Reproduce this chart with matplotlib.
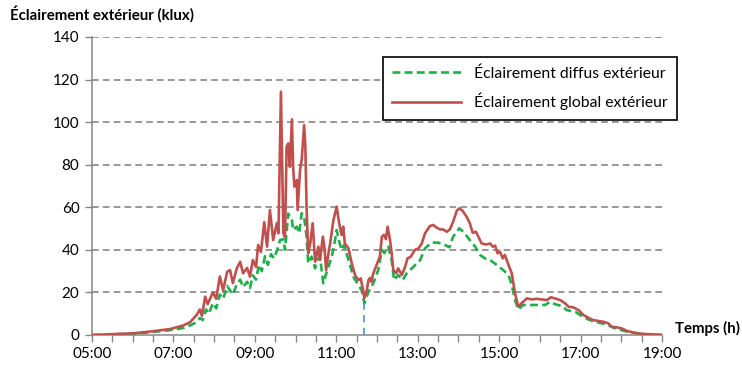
import numpy as np
import matplotlib.pyplot as plt
from matplotlib.ticker import MultipleLocator

# Heures décimales et éclairement (klux)
t_global = [5.00, 5.49, 6.01, 6.42, 6.92, 7.24, 7.41, 7.57, 7.65, 7.70, 7.78, 7.84,
            7.90, 7.97, 8.05, 8.14, 8.22, 8.32, 8.39, 8.46, 8.56, 8.64, 8.71, 8.81,
            8.88, 8.95, 9.03, 9.08, 9.15, 9.23, 9.30, 9.37, 9.45, 9.54, 9.58, 9.64,
            9.70, 9.74, 9.78, 9.82, 9.86, 9.91, 9.94, 9.97, 10.03, 10.05, 10.11, 10.15,
            10.21, 10.24, 10.27, 10.31, 10.36, 10.42, 10.48, 10.56, 10.60, 10.67, 10.71,
            10.75, 10.82, 10.85, 10.93, 11.01, 11.07, 11.13, 11.17, 11.21, 11.30, 11.38,
            11.46, 11.54, 11.60, 11.65, 11.69, 11.75, 11.79, 11.83, 11.86, 11.91, 11.99,
            12.07, 12.12, 12.17, 12.22, 12.26, 12.32, 12.36, 12.40, 12.47, 12.52, 12.61,
            12.69, 12.75, 12.83, 12.93, 13.02, 13.10, 13.18, 13.26, 13.30, 13.38, 13.47,
            13.55, 13.63, 13.71, 13.79, 13.87, 13.96, 14.02, 14.10, 14.20, 14.28, 14.35,
            14.43, 14.51, 14.57, 14.68, 14.78, 14.84, 14.90, 14.96, 15.02, 15.09, 15.14,
            15.23, 15.31, 15.39, 15.47, 15.55, 15.68, 15.80, 15.92, 16.04, 16.17, 16.27,
            16.37, 16.50, 16.62, 16.70, 16.82, 16.95, 17.07, 17.19, 17.31, 17.44, 17.56,
            17.68, 17.76, 17.89, 18.01, 18.13, 18.30, 18.54, 18.79, 19.00]
e_global = [0.0, 0.4, 0.8, 1.6, 2.8, 4.5, 6.0, 9.4, 12.0, 9.0, 18.0, 14.5,
            17.0, 20.0, 17.0, 27.5, 21.0, 29.7, 30.5, 24.4, 31.5, 34.4, 29.0, 31.5,
            27.4, 35.2, 32.0, 42.3, 39.0, 53.0, 41.5, 58.7, 44.6, 52.6, 47.8, 114.3,
            47.9, 46.0, 88.5, 90.0, 79.0, 101.3, 79.0, 69.7, 72.8, 58.7, 77.5, 82.2,
            98.6, 88.5, 60.3, 38.4, 43.0, 52.5, 34.4, 41.5, 35.2, 46.2, 41.0,
            30.5, 40.0, 43.0, 54.0, 60.3, 52.5, 47.0, 50.9, 43.0, 40.7, 33.7,
            28.2, 25.8, 26.6, 21.9, 17.2, 21.1, 25.8, 26.8, 25.0, 29.0, 32.9,
            36.8, 46.2, 47.0, 45.0, 50.9, 44.6, 38.4, 30.5, 29.0, 31.3, 28.2,
            32.0, 36.0, 36.8, 40.0, 40.7, 43.0, 47.8, 50.1, 51.2, 51.7, 50.4,
            49.6, 49.6, 48.5, 49.6, 53.2, 58.4, 59.5, 58.4, 55.6, 52.5, 48.0,
            48.5, 45.4, 43.0, 42.5, 43.0, 41.5, 42.0, 38.4, 39.1, 36.0, 37.6,
            32.9, 29.0, 19.6, 13.3, 14.9, 17.2, 16.7, 17.0, 16.7, 16.4, 17.7,
            17.2, 16.4, 14.9, 13.3, 13.0, 11.7, 9.4, 8.1, 7.0, 6.6, 6.2,
            5.5, 3.9, 3.6, 3.1, 2.0, 1.1, 0.5, 0.3, 0.0]

t_diffus = [5.00, 5.49, 6.01, 6.42, 6.92, 7.24, 7.41, 7.57, 7.65, 7.72, 7.80, 7.87,
            7.97, 8.05, 8.14, 8.22, 8.32, 8.39, 8.46, 8.56, 8.64, 8.71, 8.81, 8.88,
            8.95, 9.03, 9.10, 9.17, 9.25, 9.32, 9.40, 9.47, 9.55, 9.62, 9.70, 9.74,
            9.82, 9.91, 9.94, 10.03, 10.09, 10.15, 10.21, 10.27, 10.31, 10.39, 10.48,
            10.52, 10.60, 10.68, 10.78, 10.89, 10.97, 11.01, 11.07, 11.13, 11.19, 11.30,
            11.42, 11.54, 11.62, 11.69, 11.79, 11.91, 12.03, 12.12, 12.18, 12.28, 12.36,
            12.42, 12.52, 12.63, 12.73, 12.89, 13.06, 13.18, 13.34, 13.50, 13.67, 13.78,
            13.87, 14.02, 14.12, 14.28, 14.41, 14.53, 14.65, 14.78, 14.94, 15.10, 15.23,
            15.31, 15.39, 15.47, 15.59, 15.80, 16.13, 16.25, 16.37, 16.54, 16.66, 16.87,
            17.03, 17.19, 17.40, 17.64, 17.81, 18.13, 18.53, 19.00]
e_diffus = [0.0, 0.3, 0.6, 1.3, 2.3, 3.3, 4.5, 6.0, 8.0, 7.0, 12.0, 10.0,
            15.0, 12.5, 19.0, 17.0, 23.0, 21.0, 19.0, 24.0, 26.0, 22.5, 25.0, 22.0,
            28.0, 26.0, 33.0, 30.0, 37.0, 33.0, 38.0, 36.0, 40.0, 44.6, 45.0, 40.0,
            57.0, 54.0, 49.3, 50.9, 47.8, 57.2, 55.6, 46.2, 33.7, 36.8, 31.3,
            35.0, 36.8, 24.3, 30.5, 36.8, 44.6, 49.3, 44.0, 40.0, 42.3, 35.2,
            27.4, 23.5, 21.1, 14.9, 20.3, 24.3, 30.5, 40.0, 38.5, 41.5, 35.2,
            25.8, 28.2, 25.8, 29.0, 32.0, 35.2, 40.7, 43.4, 43.4, 42.3, 41.2,
            46.2, 50.1, 48.5, 44.6, 41.5, 37.6, 36.0, 35.2, 32.9, 30.5, 28.2,
            23.5, 16.4, 12.0, 14.1, 14.1, 14.1, 15.6, 14.5, 13.6, 11.7, 10.9,
            8.9, 7.3, 6.0, 5.0, 3.4, 1.6, 0.4, 0.0]

# instant du minimum marqué par le trait vertical
t_repere = 11.69
e_repere = 17.2

heures = np.arange(5, 20, 2)
etiquettes = ['%02d:00' % h for h in heures]

plt.rcParams['font.family'] = ['Lato', 'DejaVu Sans']

fig = plt.figure(figsize=(7.42, 3.73), dpi=100)
ax = fig.add_axes([92 / 742, 38 / 373, 570 / 742, 298 / 373])

gris = '#868686'
ax.set_xlim(5, 19)
ax.set_ylim(0, 140)
ax.yaxis.set_major_locator(MultipleLocator(20))
for y in range(20, 141, 20):
    ax.axhline(y, color=gris, lw=1.2, ls=(0, (4, 2.5)), zorder=1)

ax.plot([t_repere, t_repere], [0, e_repere], color='#5b9bd5', lw=1.3,
        ls=(0, (4, 3)), zorder=2)
ax.plot(t_diffus, e_diffus, color='#1fae4b', lw=1.9, ls=(0, (3, 1.6)),
        label='Éclairement diffus extérieur', zorder=3)
ax.plot(t_global, e_global, color='#c0504d', lw=1.9,
        label='Éclairement global extérieur', zorder=4)

ax.set_xticks(heures)
ax.set_xticklabels(etiquettes)
ax.xaxis.set_minor_locator(MultipleLocator(0.5))
ax.tick_params(axis='x', which='both', direction='out', length=5, width=1,
               color=gris, labelsize=11, pad=4)
ax.tick_params(axis='y', direction='out', length=5, width=1, color=gris,
               labelsize=11, pad=4)

for s in ['top', 'right']:
    ax.spines[s].set_visible(False)
for s in ['left', 'bottom']:
    ax.spines[s].set_color(gris)
    ax.spines[s].set_linewidth(1.1)

fig.text(10 / 742, 1 - 14 / 373, 'Éclairement extérieur (klux)', fontsize=10.8,
         fontweight='bold', va='center', ha='left')
fig.text(675 / 742, 1 - 328 / 373, 'Temps (h)', fontsize=10.8,
         fontweight='bold', va='center', ha='left')

leg = ax.legend(loc='upper right', bbox_to_anchor=(1.026, 0.933), fontsize=11.3,
                frameon=True, fancybox=False, edgecolor='black', framealpha=1,
                handlelength=4.4, borderpad=0.6, labelspacing=0.75,
                borderaxespad=0)
leg.get_frame().set_linewidth(1.2)

fig.savefig('out.png', dpi=100)
